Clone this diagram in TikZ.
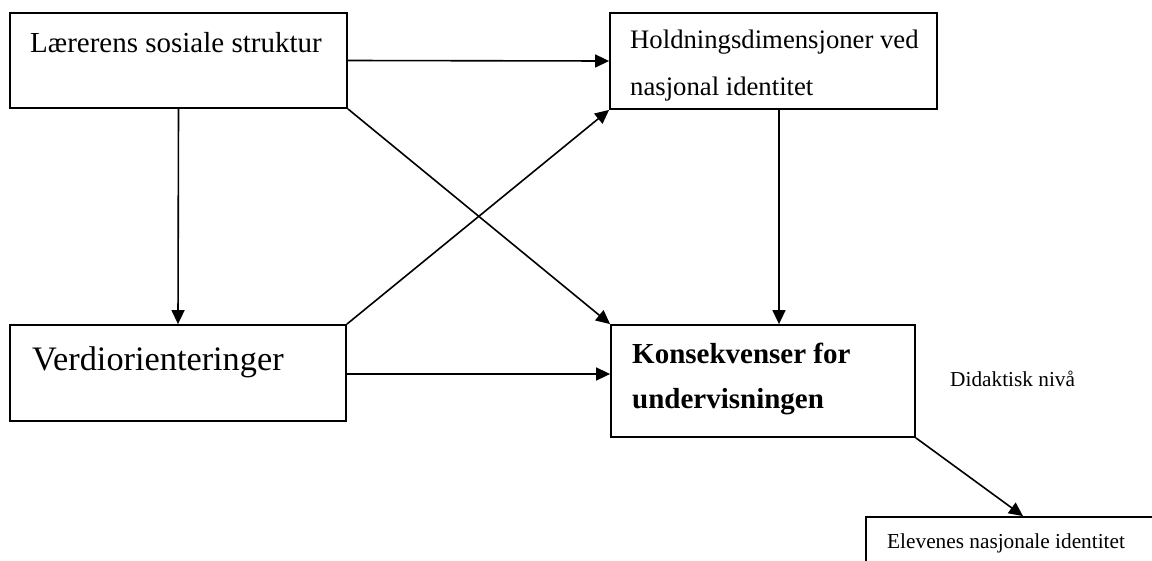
\documentclass[tikz,border=0pt]{standalone}
\usepackage{fontspec}
\setmainfont{Liberation Serif}
\usetikzlibrary{arrows.meta}

\begin{document}
\begin{tikzpicture}[x=1pt, y=-1pt,
			box/.style={rectangle, draw, line width=1.8pt, inner sep=0pt},
			txt/.style={anchor=base west, inner sep=0pt, align=left},
			arrow/.style={-{Triangle[length=14pt,width=13pt]}, line width=1.6pt}
			]
			
			\clip (0,0) rectangle (1152,560);
			
			% Boxes
			\node[box, minimum width=337pt, minimum height=95pt] (soc) at (178.5,60.5) {};
			\node[box, minimum width=327pt, minimum height=96pt] (hold) at (773.5,61) {};
			\node[box, minimum width=336pt, minimum height=96pt] (verdi) at (178,373) {};
			\node[box, minimum width=304pt, minimum height=112pt] (kons) at (763,381) {};
			\node[box, minimum width=314pt, minimum height=94pt] (elev) at (1023,564) {};
			
			% Texts (base of the last line)
			\node[txt, font=\fontsize{29}{35}\selectfont] (soctxt) at (30,52) {Lærerens sosiale struktur};
			\node[txt, font=\fontsize{26.7}{47}\selectfont] (holdtxt) at (630,95) {Holdningsdimensjoner ved\\nasjonal identitet};
			\node[txt, font=\fontsize{34.3}{40}\selectfont] (verditxt) at (32,370) {Verdiorienteringer};
			\node[txt, font=\bfseries\fontsize{29}{45}\selectfont] (konstxt) at (632,408) {Konsekvenser for\\undervisningen};
			\node[txt, font=\fontsize{21.3}{25}\selectfont] (niva) at (950,386) {Didaktisk nivå};
			\node[txt, font=\fontsize{21.3}{25}\selectfont] (elevtxt) at (887,548) {Elevenes nasjonale identitet};
			
			% Between structure and the rest
			\draw[arrow] (soc.east) -- (hold.west);
			\draw[arrow] (soc.south) -- (verdi.north);
			\draw[arrow] (soc.south east) -- (kons.north west);
			
			% Between value orientations and the rest
			\draw[arrow] (verdi.north east) -- (hold.south west);
			\draw[arrow] ([yshift=-1pt]verdi.east) -- ([yshift=-1pt]verdi.east -| kons.west);
			
			% Down to the consequences
			\draw[arrow] ([xshift=5.5pt]hold.south) -- ([xshift=5.5pt]hold.south |- kons.north);
			\draw[arrow] (kons.south east) -- (elev.north);
		\end{tikzpicture}
\end{document}
